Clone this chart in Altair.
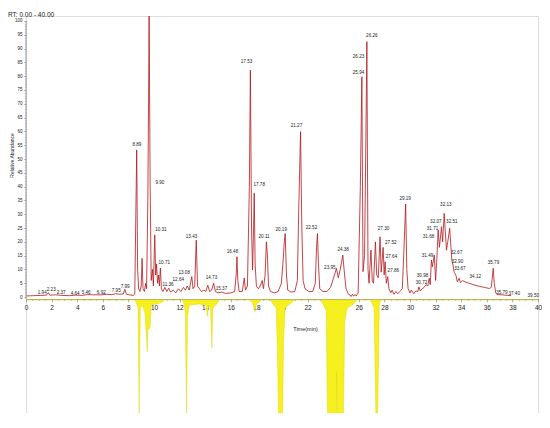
import altair as alt
import pandas as pd

# ---- upper (red) chromatogram: retention time (min) vs relative abundance ----
red_time = [0.0, 0.6, 1.2, 1.6, 1.75, 1.85, 2.3, 2.8, 3.4, 3.9, 4.4, 4.8, 5.3, 5.9, 6.3, 6.7, 7.0, 7.3, 7.6, 7.72, 7.85,
            8.1, 8.4, 8.5, 8.58, 8.65, 8.72, 8.8, 8.9, 9.0, 9.07, 9.14, 9.25, 9.35, 9.42, 9.52, 9.62, 9.7, 9.78, 9.88,
            9.95, 10.06, 10.13, 10.2, 10.28, 10.36, 10.42, 10.5, 10.58, 10.7, 10.85, 11.0, 11.15, 11.3, 11.5, 11.7,
            11.9, 12.1, 12.3, 12.45, 12.6, 12.75, 12.95, 13.05, 13.18, 13.3, 13.4, 13.55, 13.7, 13.9, 14.05, 14.2,
            14.35, 14.5, 14.66, 14.8, 15.0, 15.3, 15.6, 16.0, 16.3, 16.42, 16.48, 16.55, 16.65, 16.9, 17.05, 17.15,
            17.3, 17.45, 17.53, 17.62, 17.7, 17.78, 17.83, 17.9, 18.0, 18.15, 18.3, 18.45, 18.55, 18.68, 18.78, 18.85,
            18.95, 19.1, 19.4, 19.7, 19.95, 20.1, 20.18, 20.25, 20.35, 20.45, 20.7, 21.0, 21.2, 21.3, 21.45, 21.55,
            21.65, 21.8, 22.1, 22.4, 22.6, 22.7, 22.77, 22.85, 22.95, 23.2, 23.5, 23.8, 24.1, 24.25, 24.4, 24.55,
            24.75, 24.85, 25.0, 25.2, 25.3, 25.4, 25.5, 25.6, 25.7, 25.8, 25.95, 26.12, 26.24, 26.33, 26.45, 26.56,
            26.63, 26.72, 26.8, 26.95, 27.05, 27.15, 27.3, 27.4, 27.52, 27.66, 27.75, 27.9, 27.98, 28.06, 28.15,
            28.26, 28.35, 28.5, 28.6, 28.75, 28.9, 29.05, 29.2, 29.4, 29.55, 29.66, 29.75, 29.85, 30.0, 30.1, 30.3,
            30.45, 30.6, 30.7, 30.8, 30.95, 31.1, 31.25, 31.38, 31.5, 31.58, 31.67, 31.75, 31.9, 32.0, 32.1, 32.2,
            32.3, 32.46, 32.55, 32.67, 32.85, 32.95, 33.1, 33.27, 33.36, 33.45, 33.58, 33.7, 33.84, 33.95, 34.1,
            34.3, 34.6, 35.0, 35.4, 35.8, 36.2, 36.35, 36.45, 36.5, 36.58, 36.7, 36.8, 37.2, 37.6, 37.9]
red_abund = [0.4, 0.5, 0.6, 0.7, 1.6, 0.7, 0.8, 0.6, 0.5, 0.7, 0.6, 0.9, 0.8, 0.8, 1.0, 0.9, 1.2, 1.0, 1.1, 2.8, 1.0,
             0.8, 0.6, 1.2, 30, 53.3, 10, 3, 2, 4, 14, 3, 2, 5, 3, 35, 101.8, 40, 6, 10,
             4, 22.5, 8, 12, 5, 8, 4, 10.5, 3, 2, 3.5, 2, 3.2, 1.8, 2.5, 1.5,
             3, 2, 3.5, 2.5, 4, 2.5, 7.4, 3, 4, 20.6, 4, 3, 2, 2.5, 2, 4.3,
             2, 2.5, 5, 2, 1.5, 1.8, 1.3, 1.5, 2, 8, 14.6, 6, 2, 2, 6.9, 2.5,
             4, 40, 82.2, 25, 9.8, 25, 37.6, 12, 4, 3, 4, 6, 3, 8, 20, 16,
             4, 2, 1.5, 2, 5, 14, 20, 23, 8, 2.5, 1.8, 2, 6, 30, 59.9, 25,
             6, 3, 2, 2, 5, 18, 23, 12, 3, 2, 2, 3.5, 8, 10.4, 7, 10,
             15.2, 10, 3, 1, 0.8, 0.2, 1.0, 0.3, 0.9, 0.4, 1.5, 40, 79.8, 9.2, 15, 60,
             92.5, 10, 5, 17, 6, 5, 20, 8, 7, 21.8, 9, 18, 8, 12.8, 5,
             7.4, 3, 1.5, 2.5, 1, 2, 1.2, 2, 3, 20, 33.7, 10, 3, 1.5, 2.5, 1.2,
             2.2, 2, 3.7, 2.2, 3, 3.5, 4.5, 4, 6.8, 4.5, 13.4, 11, 15.2, 6, 14, 24.3,
             18, 25.5, 20, 30.3, 17, 20, 24.9, 13.4, 11.6, 9, 8, 5.5, 6.8, 5.2, 6,
             5.5, 5, 4.4, 3.9, 3.5, 3.1, 3.5, 8, 10.4, 5, 1.5, 0.9, 0.8, 0.6, 0.5]

# ---- lower (yellow) mirrored trace: depth below the axis ----
yel_time = [0.0, 8.5, 8.65, 8.75, 8.84, 8.93, 9.1, 9.3, 9.38, 9.47, 9.52, 9.7, 9.78, 10.2, 10.6, 10.8,
            12.2, 12.35, 12.45, 12.54, 12.62, 12.75, 13.5, 14.05, 14.18, 14.28, 14.42, 14.52, 14.6, 14.9, 15.1,
            17.5, 17.7, 17.9, 18.0, 18.3, 18.4, 19.1, 19.3, 19.55, 19.65, 19.72, 20.05, 20.12, 20.25, 20.6, 21.0,
            23.0, 23.2, 23.45, 23.55, 24.25, 24.27, 24.3, 24.8, 24.9, 25.1, 25.6, 25.8,
            26.9, 27.05, 27.2, 27.33, 27.48, 27.6, 27.7, 40.0]
yel_depth = [0, 0, 1.5, 3, 41, 3, 2, 5, 11, 19, 11, 10, 2, 1.5, 1, 0,
             0, 1.5, 5, 41, 6, 2, 1.5, 2, 6, 2, 3, 17.5, 3, 1.5, 0,
             0, 1.2, 4.3, 1.5, 0.5, 0, 0, 1.5, 3, 20, 41, 41, 15, 3, 1.5, 0,
             0, 1.5, 4, 41, 41, 26, 41, 41, 8, 3, 1.5, 0,
             0, 1.5, 3, 41, 41, 2, 0, 0]

# ---- peak labels ----
label_text = ["1.94", "2.23", "2.37", "4.64", "5.46", "6.92", "7.95", "7.99", "8.89", "9.90", "10.31", "10.71",
              "11.36", "12.64", "13.08", "13.43", "14.73", "15.37", "16.48", "17.53", "17.78", "20.11", "20.19",
              "21.27", "22.52", "23.95", "24.38", "25.94", "26.23", "26.26", "27.30", "27.52", "27.64", "27.86",
              "29.19", "30.98", "30.72", "31.49", "31.68", "31.71", "32.07", "32.13", "32.51", "32.67", "32.90",
              "33.67", "34.12", "35.79", "35.79", "37.40", "39.50"]
label_time = [1.27, 1.97, 2.75, 3.84, 4.7, 5.88, 7.05, 7.75, 8.66, 10.46, 10.54, 10.8,
              11.1, 11.9, 12.36, 12.93, 14.49, 15.27, 16.13, 17.23, 18.22, 18.6, 19.94,
              21.13, 22.3, 23.74, 24.78, 25.98, 25.98, 27.02, 27.93, 28.5, 28.55, 28.7,
              29.62, 30.98, 30.9, 31.37, 31.45, 31.76, 32.02, 32.8, 33.27, 33.63, 33.71,
              33.9, 35.1, 36.52, 37.18, 38.14, 39.63]
label_abund = [1.45, 2.5, 1.45, 1.1, 1.45, 1.45, 2.2, 3.6, 55.2, 41.4, 24.3, 12.3,
               4.3, 6.2, 8.6, 21.8, 7.0, 2.8, 16.4, 85.3, 40.6, 21.8, 24.3,
               62, 24.9, 10.4, 17, 81, 87, 94.7, 24.6, 19.7, 14.4, 9.5,
               35.5, 7.6, 5.2, 14.9, 21.6, 24.6, 27.3, 33.3, 27.3, 16, 12.7,
               10, 7.4, 12.4, 1.6, 1.1, 0.5]

# axis tick positions
x_major = list(range(0, 41, 2))
x_minor = [i * 0.5 for i in range(81)]
y_major = list(range(0, 101, 5))
y_minor = list(range(0, 101))

red_df = pd.DataFrame({"t": red_time, "v": red_abund})
yel_df = pd.DataFrame({"t": yel_time, "d": yel_depth})
lab_df = pd.DataFrame({"t": label_time, "v": label_abund, "txt": label_text})

FONT = "Liberation Sans"
AX = "#8c8c8c"
XOFF = -114

xscale = alt.Scale(domain=[0, 40], nice=False, zero=False)
yscale = alt.Scale(domain=[-42, 101.8], nice=False, zero=False)

x_axis = alt.Axis(
    values=x_major, format="d", orient="bottom",
    tickSize=3, offset=XOFF, labelFlush=False, labelOverlap=False, grid=False,
    domainColor=AX, tickColor=AX, tickWidth=0.6, domainWidth=0.8,
    labelFont=FONT, labelFontSize=6.5, labelColor="#222", labelPadding=2,
    title="Time(min)", titleFont=FONT, titleFontSize=5.5, titleFontWeight="normal",
    titleColor="#222", titleX=279, titleY=29, titleAlign="center", titleBaseline="middle",
)
x_axis_minor = alt.Axis(
    values=x_minor, orient="bottom", labels=False, domain=False, grid=False,
    tickSize=1.5, offset=XOFF, tickColor=AX, tickWidth=0.5, title=None,
)
y_axis = alt.Axis(
    values=y_major, format="d", orient="left",
    tickSize=2.5, domain=False, labelOverlap=False, labelFlush=False, grid=False,
    tickColor=AX, tickWidth=0.5,
    labelFont=FONT, labelFontSize=4.5, labelColor="#222", labelPadding=1.5,
    title="Relative Abundance", titleFont=FONT, titleFontSize=5, titleFontWeight="normal",
    titleColor="#222", titleX=-15, titleY=139, titleAngle=270, titleAlign="center", titleBaseline="middle",
)
y_axis_minor = alt.Axis(
    values=y_minor, orient="left", labels=False, domain=False, grid=False,
    tickSize=1.3, tickColor=AX, tickWidth=0.4, title=None,
)

yellow = alt.Chart(yel_df).transform_calculate(
    lo="-1 - datum.d", base="-1"
).mark_area(color="#f7f01f", stroke="#d9cf00", strokeWidth=0.4).encode(
    x=alt.X("t:Q", scale=xscale, axis=x_axis),
    y=alt.Y("lo:Q", scale=yscale, axis=y_axis),
    y2="base:Q",
)

red = alt.Chart(red_df).mark_line(color="#b3161c", strokeWidth=0.8).encode(
    x=alt.X("t:Q", scale=xscale, axis=None),
    y=alt.Y("v:Q", scale=yscale, axis=None),
)

labels = alt.Chart(lab_df).mark_text(
    font=FONT, fontSize=4.6, color="#222", align="center", baseline="middle"
).encode(
    x=alt.X("t:Q", scale=xscale, axis=None),
    y=alt.Y("v:Q", scale=yscale, axis=None),
    text="txt:N",
)

yline = alt.Chart(pd.DataFrame({"t": [0.0], "a": [-0.7], "b": [100.0]})).mark_rule(
    color=AX, strokeWidth=0.8
).encode(
    x=alt.X("t:Q", scale=xscale, axis=x_axis_minor),
    y=alt.Y("a:Q", scale=yscale, axis=y_axis_minor),
    y2="b:Q",
)

chart = alt.layer(yellow, red, labels, yline).resolve_axis(
    x="independent", y="independent"
).properties(
    width=512, height=397,
    autosize=alt.AutoSizeParams(type="none"),
    padding={"left": 18, "top": 8, "right": 4, "bottom": 0},
    title=alt.Title("RT: 0.00 - 40.00", anchor="start", frame="group", dx=-18, offset=-4,
                    font=FONT, fontSize=6.5, fontWeight="normal", color="#222"),
).configure_view(stroke=None).configure(background="white")

chart.save("out.html", embed_options={"renderer": "svg", "actions": False})
